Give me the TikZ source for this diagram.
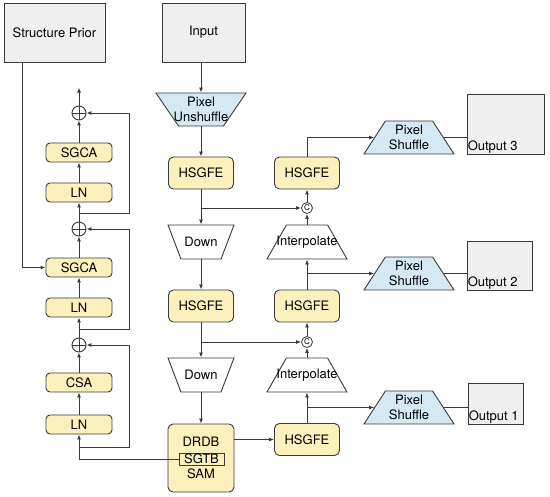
\documentclass[tikz,border=0pt]{standalone}
\usepackage{fontspec}
\setmainfont{TeX Gyre Heros}
\usetikzlibrary{arrows.meta, shapes.geometric, calc}

\definecolor{boxyellow}{HTML}{FCF0BC}
\definecolor{boxblue}{HTML}{D5E9F2}
\definecolor{boxgrey}{HTML}{EFEFEF}
\definecolor{linegrey}{HTML}{3A3A3A}

\begin{document}
\begin{tikzpicture}[
    x=1pt, y=-1pt,
    font=\fontsize{13}{15.5}\selectfont,
    block/.style={
        rectangle,
        rounded corners=5pt,
        draw=linegrey,
        line width=0.9pt,
        fill=boxyellow,
        minimum width=65pt,
        minimum height=32pt,
        align=center,
        inner sep=0pt
    },
    small/.style   ={block, rounded corners=4pt, minimum width=66pt, minimum height=19pt},
    imgbox/.style  ={rectangle, draw=linegrey, line width=0.9pt, fill=boxgrey, inner sep=0pt},
    trap/.style    ={trapezium, trapezium stretches=true, draw=linegrey, line width=0.9pt, inner sep=1pt},
    unshuffle/.style={trap, fill=boxblue, minimum width=90pt, minimum height=33pt,
                      trapezium angle=63.4, shape border rotate=180},
    shuffle/.style ={trap, fill=boxblue, minimum width=90pt, minimum height=33pt, trapezium angle=65.6},
    down/.style    ={trap, fill=white, minimum width=66pt, minimum height=34pt,
                      trapezium angle=72.1, shape border rotate=180},
    interp/.style  ={trap, fill=white, minimum width=80pt, minimum height=34pt, trapezium angle=64.8},
    traptext/.style={align=center, inner sep=0pt},
    plus/.style={
        circle, draw=linegrey, line width=0.9pt, fill=white,
        minimum size=14pt, inner sep=0pt,
        path picture={
            \draw[linegrey, line width=0.9pt]
                (path picture bounding box.north) -- (path picture bounding box.south)
                (path picture bounding box.west)  -- (path picture bounding box.east);
        }
    },
    cat/.style={circle, draw=linegrey, line width=0.8pt, fill=white, minimum size=11pt,
                inner sep=0pt, font=\fontsize{8}{8}\selectfont},
    arr/.style={-{Latex[length=5pt, width=4pt]}, draw=linegrey, line width=0.9pt},
    line/.style={draw=linegrey, line width=0.9pt}
]
\useasboundingbox (0,0) rectangle (550,497);

% inputs
\node[imgbox, minimum width=101pt, minimum height=59pt] (prior) at (54.5,32.5) {Structure Prior};
\node[imgbox, minimum width=83pt,  minimum height=59pt] (input) at (203.5,32.5) {Input};

% encoder
\node[unshuffle] (punsh) at (201,109.5) {};
\node[traptext] (punsh-t) at (punsh.center) {Pixel\\Unshuffle};
\node[block] (h1) at (201,173) {HSGFE};
\node[down] (down1) at (201,242) {};
\node[traptext] (down1-t) at (down1.center) {Down};
\node[block] (h2) at (201,306) {HSGFE};
\node[down] (down2) at (201,375) {};
\node[traptext] (down2-t) at (down2.center) {Down};
\node[block, minimum width=66pt, minimum height=68pt] (drdb) at (201,458)
    {DRDB\\[0.5pt]\phantom{SGTB}\\[0.5pt]SAM};
\node[rectangle, draw=linegrey, line width=0.9pt, fill=boxyellow, inner sep=0pt,
      minimum width=45pt, minimum height=12pt] (sgtb) at (201.5,459) {SGTB};

% decoder
\node[block] (hr3) at (307,439.5) {HSGFE};
\node[interp] (interp2) at (307,375) {};
\node[traptext] (interp2-t) at (interp2.center) {Interpolate};
\node[cat] (c2) at (307,342) {C};
\node[block] (hr2) at (307,306) {HSGFE};
\node[interp] (interp1) at (307,242) {};
\node[traptext] (interp1-t) at (interp1.center) {Interpolate};
\node[cat] (c1) at (307,208) {C};
\node[block] (hr1) at (307,173) {HSGFE};

% outputs
\node[shuffle] (ps3) at (409,137.5) {};
\node[traptext] (ps3-t) at (ps3.center) {Pixel\\Shuffle};
\node[shuffle] (ps2) at (409,273.5) {};
\node[traptext] (ps2-t) at (ps2.center) {Pixel\\Shuffle};
\node[shuffle] (ps1) at (409,407.5) {};
\node[traptext] (ps1-t) at (ps1.center) {Pixel\\Shuffle};
\node[imgbox, minimum width=77pt, minimum height=60pt] (out3) at (505.5,124) {};
\node[anchor=south west, inner sep=1pt] (out3-t) at (out3.south west) {Output 3};
\node[imgbox, minimum width=65pt, minimum height=49pt] (out2) at (499.5,265.5) {};
\node[anchor=south west, inner sep=1pt] (out2-t) at (out2.south west) {Output 2};
\node[imgbox, minimum width=55pt, minimum height=41pt] (out1) at (495.5,403.5) {};
\node[anchor=south west, inner sep=1pt] (out1-t) at (out1.south west) {Output 1};

% SGTB internals
\node[plus] (plus1) at (79,113) {};
\node[small] (sgca1) at (79,152.5) {SGCA};
\node[small] (ln1)   at (79,192.5) {LN};
\node[plus] (plus2) at (79,229) {};
\node[small] (sgca2) at (79,267.5) {SGCA};
\node[small] (ln2)   at (79,307.5) {LN};
\node[plus] (plus3) at (79,345) {};
\node[small] (csa)   at (79,382.5) {CSA};
\node[small] (ln3)   at (79,424.5) {LN};
\coordinate (fb1) at (79,213);
\coordinate (fb2) at (79,329);
\coordinate (fb3) at (79,447);

% main path
\draw[arr] (input.south -| punsh) -- (punsh);
\draw[arr] (punsh) -- (h1);
\draw[arr] (h1) -- (down1);
\draw[arr] (down1) -- (h2);
\draw[arr] (h2) -- (down2);
\draw[arr] (down2) -- (drdb);
\draw[arr] (drdb.east |- hr3.west) -- (hr3.west);

% skips
\draw[arr] (h1.south |- c1) -- (c1);
\draw[arr] (h2.south |- c2) -- (c2);

% decoder path
\draw[arr] (hr3) -- (interp2);
\draw[arr] (interp2) -- (c2);
\draw[arr] (c2) -- (hr2);
\draw[arr] (hr2) -- (interp1);
\draw[arr] (interp1) -- (c1);
\draw[arr] (c1) -- (hr1);

% to outputs
\draw[arr] (hr1.north) |- (ps3.west);
\draw[arr] (hr2.north |- ps2) -- (ps2.west);
\draw[arr] (hr3.north |- ps1) -- (ps1.west);
\draw[line] (ps3.east) -- (ps3.east -| out3.west);
\draw[line] (ps2.east) -- (ps2.east -| out2.west);
\draw[line] (ps1.east) -- (ps1.east -| out1.west);

% SGTB column
\draw[arr] (sgtb.west) -| (ln3.south);
\draw[arr] (ln3) -- (csa);
\draw[arr] (csa) -- (plus3);
\draw[arr] (plus3) -- (ln2);
\draw[arr] (ln2) -- (sgca2);
\draw[arr] (sgca2) -- (plus2);
\draw[arr] (plus2) -- (ln1);
\draw[arr] (ln1) -- (sgca1);
\draw[arr] (sgca1) -- (plus1);
\draw[arr] (plus1.north) -- ++(0,-18);
\draw[arr] (fb1) -- ++(50,0) |- (plus1.east);
\draw[arr] (fb2) -- ++(50,0) |- (plus2.east);
\draw[arr] (fb3) -- ++(50,0) |- (plus3.east);
\draw[arr] ([xshift=-32.5pt]prior.south) |- (sgca2.west);
\end{tikzpicture}
\end{document}
